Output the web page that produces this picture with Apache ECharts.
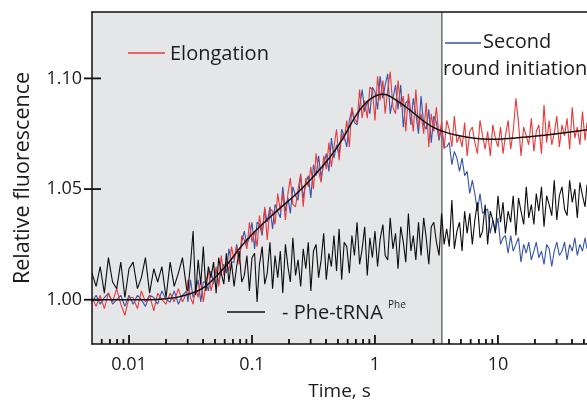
<!DOCTYPE html>
<html><head><meta charset="utf-8">
<script src="https://cdn.jsdelivr.net/npm/echarts@6/dist/echarts.min.js"></script>
<style>html,body{margin:0;padding:0;background:#fff}#c{width:587px;height:407px}</style>
</head><body><div id="c"></div>
<script>
// ---- data ----
const times = [
0.00500,0.00540,0.00583,0.00630,0.00680,0.00735,0.00794,0.00857,0.00926,0.0100,
0.0108,0.0117,0.0126,0.0136,0.0147,0.0159,0.0171,0.0185,0.0200,0.0216,
0.0233,0.0252,0.0272,0.0294,0.0301,0.0316,0.0332,0.0348,0.0365,0.0383,
0.0402,0.0422,0.0442,0.0464,0.0487,0.0511,0.0536,0.0562,0.0590,0.0619,
0.0649,0.0681,0.0715,0.0750,0.0787,0.0825,0.0866,0.0909,0.0953,0.100,
0.105,0.110,0.115,0.121,0.127,0.133,0.140,0.147,0.154,0.162,
0.170,0.178,0.187,0.196,0.205,0.215,0.226,0.237,0.249,0.261,
0.274,0.287,0.301,0.316,0.332,0.348,0.365,0.383,0.402,0.422,
0.442,0.464,0.487,0.511,0.536,0.562,0.590,0.619,0.649,0.681,
0.715,0.750,0.787,0.825,0.866,0.909,0.953,1.00,1.05,1.10,
1.16,1.21,1.27,1.33,1.40,1.47,1.54,1.62,1.70,1.78,
1.87,1.96,2.05,2.15,2.26,2.37,2.49,2.61,2.74,2.87,
3.01,3.16,3.32,3.48,3.65,3.83,4.02,4.22,4.42,4.64,
4.87,5.11,5.36,5.62,5.90,6.19,6.49,6.81,7.15,7.50,
7.87,8.25,8.66,9.09,9.53,10.0,10.5,11.0,11.5,12.1,
12.7,13.3,14.0,14.7,15.4,16.2,17.0,17.8,18.7,19.6,
20.5,21.5,22.6,23.7,24.9,26.1,27.4,28.7,30.1,31.6,
33.2,34.8,36.5,38.3,40.2,42.2,44.2,46.4,48.7,51.1,
53.0];

const elongation = [
1.001,0.997,1.002,0.996,1.003,0.999,1.005,0.998,0.993,1.001,
1.001,0.996,1.004,0.999,1.002,0.995,1.003,1.000,0.998,1.003,
0.999,1.005,0.999,1.003,1.009,1.001,0.998,1.006,1.001,1.009,
0.999,1.008,1.013,1.004,1.009,1.015,1.006,1.020,1.011,1.017,
1.013,1.024,1.018,1.024,1.016,1.029,1.027,1.023,1.035,1.026,
1.031,1.024,1.038,1.030,1.042,1.027,1.041,1.040,1.034,1.048,
1.040,1.048,1.036,1.048,1.055,1.043,1.042,1.050,1.057,1.042,
1.055,1.051,1.060,1.050,1.066,1.058,1.053,1.065,1.059,1.071,
1.060,1.069,1.077,1.063,1.075,1.072,1.081,1.069,1.087,1.082,
1.080,1.095,1.082,1.090,1.082,1.096,1.095,1.081,1.101,1.090,
1.099,1.084,1.095,1.103,1.087,1.084,1.099,1.087,1.092,1.076,
1.093,1.085,1.076,1.095,1.078,1.084,1.075,1.089,1.069,1.084,
1.076,1.087,1.073,1.080,1.068,1.081,1.077,1.069,1.083,1.071,
1.074,1.069,1.080,1.065,1.076,1.078,1.071,1.066,1.081,1.074,
1.068,1.076,1.065,1.079,1.073,1.069,1.078,1.066,1.074,1.081,
1.068,1.076,1.091,1.080,1.065,1.078,1.074,1.070,1.082,1.067,
1.076,1.079,1.066,1.088,1.071,1.081,1.070,1.075,1.083,1.069,
1.079,1.074,1.082,1.068,1.087,1.073,1.078,1.070,1.085,1.072,
1.080];

const secondRound = [
0.999,1.002,0.998,1.001,1.003,0.998,1.000,1.002,0.997,1.002,
0.998,1.002,1.000,0.997,1.002,1.001,0.998,1.004,1.000,0.999,
1.004,0.998,1.002,1.004,0.999,1.009,1.001,1.004,1.009,0.999,
1.008,1.008,1.004,1.013,1.007,1.014,1.007,1.013,1.016,1.012,
1.023,1.017,1.017,1.025,1.018,1.026,1.031,1.025,1.028,1.035,
1.023,1.035,1.034,1.029,1.041,1.035,1.042,1.032,1.043,1.040,
1.037,1.051,1.040,1.046,1.039,1.051,1.047,1.045,1.056,1.046,
1.053,1.056,1.046,1.061,1.056,1.065,1.055,1.061,1.066,1.058,
1.073,1.064,1.070,1.065,1.077,1.074,1.069,1.081,1.086,1.080,
1.079,1.087,1.095,1.085,1.090,1.084,1.096,1.094,1.086,1.101,
1.091,1.097,1.102,1.084,1.091,1.097,1.086,1.097,1.078,1.089,
1.090,1.079,1.091,1.084,1.075,1.092,1.079,1.077,1.086,1.071,
1.083,1.080,1.072,1.078,1.069,1.069,1.071,1.061,1.067,1.064,
1.058,1.064,1.056,1.058,1.048,1.054,1.048,1.040,1.048,1.039,
1.040,1.041,1.030,1.036,1.031,1.037,1.025,1.028,1.029,1.021,
1.029,1.022,1.025,1.028,1.017,1.025,1.021,1.026,1.018,1.022,
1.026,1.019,1.022,1.016,1.025,1.023,1.015,1.022,1.026,1.020,
1.022,1.026,1.018,1.025,1.022,1.028,1.020,1.025,1.022,1.028,
1.023];

const noPheTrna = [
1.012,1.006,1.015,1.003,1.019,1.008,1.005,1.017,1.001,1.014,
1.017,1.005,1.010,1.019,1.003,1.014,1.008,1.015,1.001,1.017,
1.006,1.012,1.019,1.005,1.004,1.016,1.031,1.002,1.018,1.007,
1.024,1.004,1.015,1.010,1.017,1.003,1.019,1.012,1.007,1.021,
1.008,1.017,1.006,1.015,1.022,1.008,1.011,1.020,1.004,1.019,
1.021,0.999,1.016,1.024,1.007,1.012,1.026,1.005,1.020,1.010,
1.022,1.003,1.025,1.015,1.008,1.028,1.011,1.018,1.006,1.023,
1.014,1.026,1.004,1.022,1.025,1.010,1.018,1.030,1.009,1.021,
1.015,1.029,1.013,1.032,1.009,1.026,1.024,1.012,1.029,1.020,
1.035,1.016,1.023,1.033,1.011,1.028,1.019,1.031,1.015,1.027,
1.034,1.020,1.018,1.037,1.023,1.030,1.014,1.033,1.026,1.017,
1.039,1.022,1.029,1.018,1.035,1.020,1.037,1.028,1.016,1.033,
1.035,1.026,1.020,1.039,1.025,1.032,1.024,1.045,1.023,1.031,
1.035,1.022,1.040,1.030,1.039,1.025,1.036,1.044,1.028,1.031,
1.043,1.025,1.040,1.036,1.030,1.047,1.035,1.044,1.030,1.040,
1.035,1.047,1.029,1.046,1.040,1.034,1.051,1.037,1.043,1.034,
1.048,1.040,1.051,1.033,1.047,1.043,1.038,1.054,1.036,1.047,
1.051,1.041,1.038,1.054,1.044,1.050,1.037,1.053,1.047,1.042,
1.052];

const fitTimes  = [0.005,0.015,0.02,0.026,0.0378,0.048,0.0626,0.0798,0.102,0.132,0.169,0.215,0.296,0.43,0.55,0.714,0.91,1.16,1.6,1.93,2.96,4.64,8.6,16,30,53];
const fitValues = [1.000,1.000,1.0005,1.0014,1.0045,1.009,1.0158,1.0234,1.030,1.036,1.0414,1.0464,1.054,1.0644,1.073,1.084,1.0905,1.0928,1.089,1.0856,1.078,1.0743,1.0725,1.0734,1.075,1.0768];

const xTickValues = [0.01, 0.1, 1, 10];
const xTickLabels = ['0.01', '0.1', '1', '10'];
const xMinorTicks = [0.006,0.007,0.008,0.009,0.02,0.03,0.04,0.05,0.06,0.07,0.08,0.09,0.2,0.3,0.4,0.5,0.6,0.7,0.8,0.9,2,3,4,5,6,7,8,9,20,30,40,50];
const yTickValues = [1.00, 1.05, 1.10];
const yTickLabels = ['1.00', '1.05', '1.10'];
const xMin = 0.005, xMax = 53, yMin = 0.98, yMax = 1.13, shadeEnd = 3.5;

// ---- chart ----
const FONT = 'Open Sans';
const TXT = '#1c1c1c';
const INK = '#111111';
const pairs = (ts, vs) => ts.map((t, i) => [t, vs[i]]);
const nearestLabel = (v, vals, labs) => {
  let best = 0;
  vals.forEach((x, i) => { if (Math.abs(Math.log10(x) - Math.log10(v)) < Math.abs(Math.log10(vals[best]) - Math.log10(v))) best = i; });
  return labs[best];
};
// tick marks drawn through the axis scales
const xTickSeries = (vals, len) => ({
  type: 'custom', z: 12, silent: true, clip: false, xAxisIndex: 0, yAxisIndex: 0,
  data: vals.map(v => [v, yMin]), encode: {x: 0, y: 1},
  renderItem: (p, api) => {
    const c = api.coord([api.value(0), api.value(1)]);
    return {type: 'line', shape: {x1: c[0], y1: c[1], x2: c[0], y2: c[1] - len}, style: {stroke: INK, lineWidth: 1.8}};
  }
});
const yTickSeries = {
  type: 'custom', z: 12, silent: true, clip: false, xAxisIndex: 0, yAxisIndex: 0,
  data: yTickValues.map(v => [xMin, v]), encode: {x: 0, y: 1},
  renderItem: (p, api) => {
    const c = api.coord([api.value(0), api.value(1)]);
    return {type: 'line', shape: {x1: c[0] - 8, y1: c[1], x2: c[0] + 9, y2: c[1]}, style: {stroke: INK, lineWidth: 1.8}};
  }
};

const chart = echarts.init(document.getElementById('c'), null, {renderer: 'canvas', width: 587, height: 407});
const axisLineStyle = {color: INK, width: 1.5};
const option = {
  animation: false,
  backgroundColor: '#ffffff',
  grid: {left: 92, right: 0, top: 12, bottom: 63},
  xAxis: [
    {type: 'log', logBase: 10, min: xMin, max: xMax, position: 'bottom', z: 10,
      name: 'Time, s', nameLocation: 'middle', nameGap: 38,
      nameTextStyle: {fontFamily: FONT, fontSize: 19, color: TXT},
      axisLine: {show: true, onZero: false, lineStyle: axisLineStyle},
      axisTick: {show: false},
      axisLabel: {show: true, customValues: xTickValues, margin: 12, fontFamily: FONT, fontSize: 18, color: TXT,
        formatter: v => nearestLabel(v, xTickValues, xTickLabels)},
      splitLine: {show: false}, minorTick: {show: false}},
    {type: 'log', logBase: 10, min: xMin, max: xMax, position: 'top', z: 10,
      axisLine: {show: true, onZero: false, lineStyle: axisLineStyle},
      axisTick: {show: false}, axisLabel: {show: false}, splitLine: {show: false}}
  ],
  yAxis: [
    {type: 'value', min: yMin, max: yMax, position: 'left', z: 10,
      name: 'Relative fluorescence', nameLocation: 'middle', nameGap: 58, nameRotate: 90,
      nameTextStyle: {fontFamily: FONT, fontSize: 21.5, color: TXT},
      axisLine: {show: true, onZero: false, lineStyle: axisLineStyle},
      axisTick: {show: false},
      axisLabel: {show: true, customValues: yTickValues, margin: 10, fontFamily: FONT, fontSize: 18, color: TXT,
        formatter: v => yTickLabels[yTickValues.findIndex(x => Math.abs(x - v) < 1e-6)] ?? v.toFixed(2)},
      splitLine: {show: false}}
  ],
  series: [
    {type: 'custom', z: 0, silent: true, xAxisIndex: 0, yAxisIndex: 0,
      data: [[xMin, shadeEnd, yMin, yMax]], encode: {x: [0, 1], y: [2, 3]},
      renderItem: (params, api) => {
        const tl = api.coord([api.value(0), api.value(3)]);
        const br = api.coord([api.value(1), api.value(2)]);
        return {type: 'group', children: [
          {type: 'rect', shape: {x: tl[0], y: tl[1], width: br[0] - tl[0], height: br[1] - tl[1]}, style: {fill: '#e5e6e8'}},
          {type: 'line', shape: {x1: br[0], y1: tl[1], x2: br[0], y2: br[1]}, style: {stroke: '#6e6e6e', lineWidth: 1.5}}
        ]};
      }},
    {name: 'Second round initiation', type: 'line', data: pairs(times, secondRound), xAxisIndex: 0, yAxisIndex: 0, z: 3,
      showSymbol: false, lineStyle: {color: '#3453a9', width: 1.1}},
    {name: 'Elongation', type: 'line', data: pairs(times, elongation), xAxisIndex: 0, yAxisIndex: 0, z: 4,
      showSymbol: false, lineStyle: {color: '#e8393a', width: 1.1}},
    {name: '- Phe-tRNA', type: 'line', data: pairs(times, noPheTrna), xAxisIndex: 0, yAxisIndex: 0, z: 5,
      showSymbol: false, lineStyle: {color: '#0d0d0d', width: 1.1}},
    {name: 'fit', type: 'line', data: pairs(fitTimes, fitValues), xAxisIndex: 0, yAxisIndex: 0, z: 6,
      showSymbol: false, smooth: 0.4, lineStyle: {color: INK, width: 1.5}},
    xTickSeries(xTickValues, 9),
    xTickSeries(xMinorTicks, 5),
    yTickSeries
  ],
  graphic: [
    {type: 'line', shape: {x1: 128, y1: 53, x2: 165, y2: 53}, style: {stroke: '#e8393a', lineWidth: 1.5}, z: 20},
    {type: 'text', x: 170, y: 54, style: {text: 'Elongation', font: '20px "Open Sans"', fill: TXT, textVerticalAlign: 'middle'}, z: 20},
    {type: 'line', shape: {x1: 445, y1: 43, x2: 481, y2: 43}, style: {stroke: '#3453a9', lineWidth: 1.5}, z: 20},
    {type: 'text', x: 483, y: 42, style: {text: 'Second', font: '20px "Open Sans"', fill: TXT, textVerticalAlign: 'middle'}, z: 20},
    {type: 'text', x: 443, y: 69, style: {text: 'round initiation', font: '20px "Open Sans"', fill: TXT, textVerticalAlign: 'middle'}, z: 20},
    {type: 'line', shape: {x1: 227, y1: 312, x2: 265, y2: 312}, style: {stroke: INK, lineWidth: 1.5}, z: 20},
    {type: 'text', x: 282, y: 313, style: {text: '- Phe-tRNA', font: '20px "Open Sans"', fill: TXT, textVerticalAlign: 'middle'}, z: 20},
    {type: 'text', x: 388, y: 305, style: {text: 'Phe', font: '10px "Open Sans"', fill: TXT, textVerticalAlign: 'middle'}, z: 20}
  ]
};
chart.setOption(option);
</script>
</body></html>
